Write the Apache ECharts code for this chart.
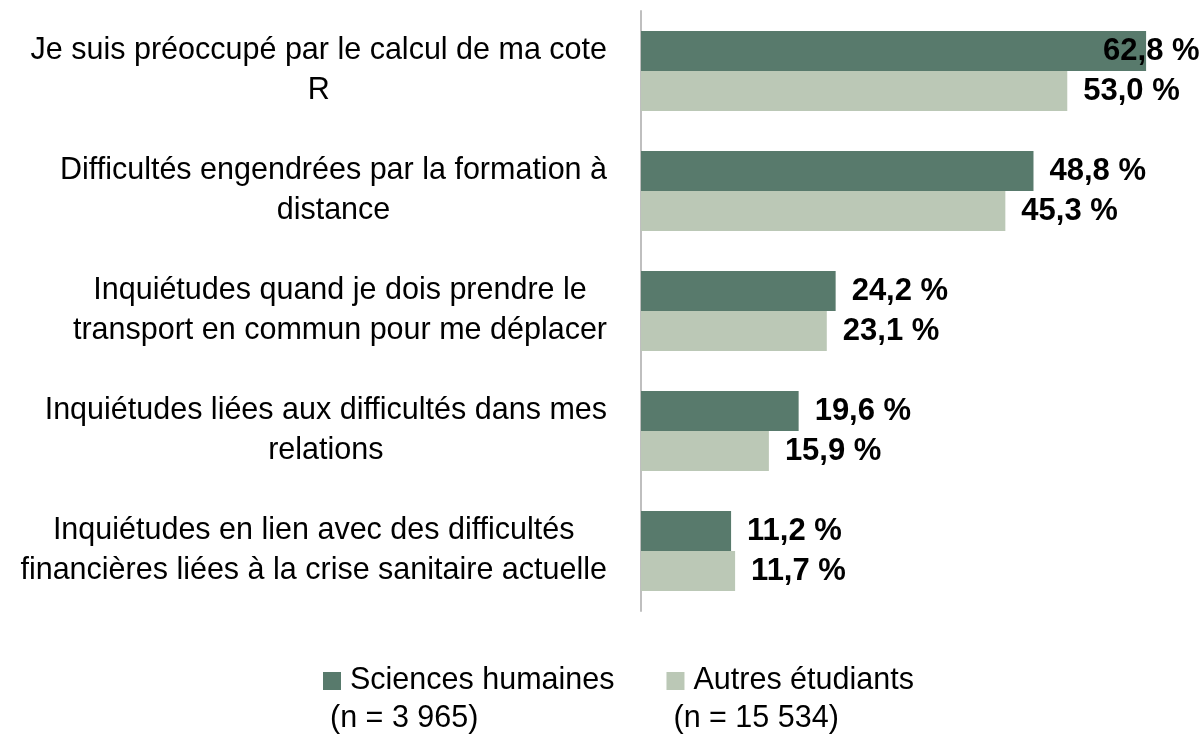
<!DOCTYPE html>
<html>
<head>
<meta charset="utf-8">
<script src="https://cdn.jsdelivr.net/npm/echarts@6/dist/echarts.min.js"></script>
<style>
html,body{margin:0;padding:0;background:#fff;}
#chart{width:1204px;height:737px;}
</style>
</head>
<body>
<div id="chart"></div>
<script>
const categories = [
  "Je suis préoccupé par le calcul de ma cote\nR",
  "Difficultés engendrées par la formation à\ndistance",
  "Inquiétudes quand je dois prendre le\ntransport en commun pour me déplacer",
  "Inquiétudes liées aux difficultés dans mes\nrelations",
  "Inquiétudes en lien avec des difficultés\nfinancières liées à la crise sanitaire actuelle"
];
const sciencesHumaines = [62.8, 48.8, 24.2, 19.6, 11.2];
const autresEtudiants = [53.0, 45.3, 23.1, 15.9, 11.7];
const seriesNames = ["Sciences humaines", "Autres étudiants"];
const seriesCounts = ["(n = 3 965)", "(n = 15 534)"];

const FONT = '"Liberation Sans", Arial, sans-serif';
const DARK = '#587a6c';
const LIGHT = '#bbc8b6';

const fmt = v => v.toFixed(1).replace('.', ',') + ' %';

const chart = echarts.init(document.getElementById('chart'), null, {renderer: 'canvas'});

const labelBase = {
  show: true,
  position: 'right',
  distance: 16,
  fontFamily: FONT,
  fontSize: 31,
  fontWeight: 'bold',
  color: '#000',
  formatter: p => fmt(p.value)
};

const darkData = sciencesHumaines.map((v, i) => i === 0
  ? {value: v, label: {offset: [-59, 0]}}
  : v);

chart.setOption({
  animation: false,
  grid: {left: 641, right: 0, top: 11, bottom: 126, containLabel: false, outerBoundsMode: 'none'},
  xAxis: {
    type: 'value', min: 0, max: 70,
    show: false,
    splitLine: {show: false}
  },
  yAxis: {
    type: 'category',
    inverse: true,
    data: categories,
    axisLine: {show: true, lineStyle: {color: '#bfbfbf', width: 2}},
    axisTick: {show: false},
    axisLabel: {
      margin: 34,
      fontFamily: FONT,
      fontSize: 30.5,
      color: '#000',
      lineHeight: 40,
      formatter: v => v.split('\n').map(s => '{c|' + s + '}').join('\n'),
      rich: {
        c: {align: 'center', fontFamily: FONT, fontSize: 30.5, lineHeight: 40, color: '#000'}
      }
    }
  },
  legend: {
    left: 313,
    top: 657,
    itemWidth: 0,
    itemHeight: 0,
    itemGap: 47,
    data: seriesNames,
    formatter: name => {
      const i = seriesNames.indexOf(name);
      return '{sq' + i + '|}{a|' + name + '}\n{b|' + seriesCounts[i] + '}';
    },
    textStyle: {
      fontFamily: FONT,
      fontSize: 30.5,
      color: '#000',
      lineHeight: 38,
      rich: {
        sq0: {width: 18, height: 18, backgroundColor: DARK, verticalAlign: 'middle'},
        sq1: {width: 18, height: 18, backgroundColor: LIGHT, verticalAlign: 'middle'},
        a: {fontFamily: FONT, fontSize: 30.5, lineHeight: 38, padding: [0, 0, 0, 9], color: '#000', verticalAlign: 'middle'},
        b: {fontFamily: FONT, fontSize: 30.5, lineHeight: 38, padding: [0, 0, 0, 7], color: '#000'}
      }
    }
  },
  series: [
    {
      name: seriesNames[0],
      type: 'bar',
      data: darkData,
      barGap: '0%',
      barCategoryGap: '33.3%',
      itemStyle: {color: DARK},
      label: labelBase
    },
    {
      name: seriesNames[1],
      type: 'bar',
      data: autresEtudiants,
      barGap: '0%',
      barCategoryGap: '33.3%',
      itemStyle: {color: LIGHT},
      label: labelBase
    }
  ]
});
</script>
</body>
</html>
